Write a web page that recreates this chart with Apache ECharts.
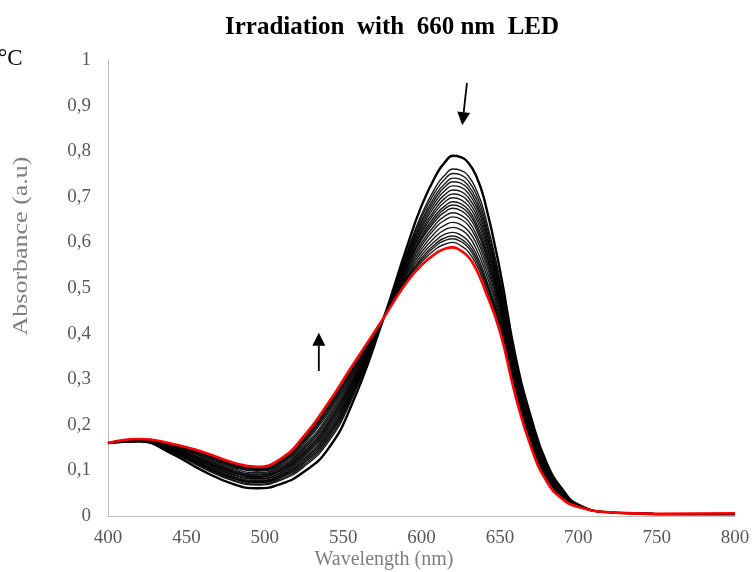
<!DOCTYPE html>
<html><head><meta charset="utf-8">
<script src="https://cdn.jsdelivr.net/npm/echarts@6/dist/echarts.min.js"></script>
<style>html,body{margin:0;padding:0;background:#fff}#c{width:754px;height:572px}</style>
</head><body><div id="c"></div><script>
// Wavelength grid (nm)
const wavelengths = [400,420,440,460,480,495,510,525,540,555,575,590,600,610,615,620,625,630,635,640,650,660,670,680,690,700,720,750,800];
// Absorbance spectra, first (black, highest peak) to last (red)
const curve00 = [0.160,0.163,0.138,0.100,0.070,0.061,0.070,0.097,0.145,0.240,0.425,0.583,0.680,0.752,0.776,0.790,0.787,0.774,0.745,0.695,0.540,0.350,0.215,0.115,0.058,0.025,0.008,0.004,0.004];
const curve01 = [0.160,0.164,0.141,0.106,0.077,0.068,0.078,0.108,0.160,0.252,0.426,0.572,0.661,0.727,0.748,0.761,0.758,0.745,0.715,0.667,0.520,0.337,0.206,0.109,0.055,0.024,0.008,0.005,0.005];
const curve02 = [0.160,0.164,0.142,0.108,0.079,0.070,0.081,0.112,0.165,0.257,0.426,0.569,0.655,0.718,0.739,0.751,0.748,0.734,0.705,0.657,0.514,0.333,0.202,0.107,0.054,0.024,0.008,0.005,0.005];
const curve03 = [0.160,0.164,0.143,0.110,0.082,0.073,0.084,0.116,0.170,0.261,0.426,0.565,0.648,0.709,0.729,0.741,0.738,0.724,0.695,0.647,0.507,0.329,0.199,0.105,0.053,0.024,0.008,0.005,0.005];
const curve04 = [0.160,0.165,0.144,0.112,0.083,0.074,0.086,0.119,0.174,0.264,0.426,0.562,0.643,0.702,0.722,0.733,0.730,0.716,0.686,0.639,0.501,0.325,0.196,0.104,0.052,0.024,0.008,0.005,0.005];
const curve05 = [0.160,0.165,0.145,0.113,0.085,0.076,0.088,0.123,0.178,0.268,0.427,0.559,0.637,0.695,0.714,0.724,0.721,0.707,0.678,0.631,0.496,0.322,0.194,0.102,0.051,0.023,0.008,0.005,0.005];
const curve06 = [0.160,0.165,0.146,0.115,0.087,0.078,0.090,0.126,0.182,0.272,0.427,0.556,0.632,0.687,0.705,0.715,0.712,0.698,0.669,0.622,0.490,0.318,0.191,0.100,0.050,0.023,0.008,0.005,0.005];
const curve07 = [0.160,0.166,0.147,0.117,0.090,0.081,0.093,0.130,0.187,0.275,0.427,0.553,0.626,0.679,0.697,0.706,0.703,0.689,0.660,0.614,0.484,0.314,0.188,0.098,0.049,0.023,0.008,0.005,0.005];
const curve08 = [0.160,0.166,0.148,0.119,0.091,0.082,0.095,0.133,0.191,0.279,0.427,0.550,0.621,0.672,0.689,0.698,0.694,0.680,0.651,0.606,0.478,0.310,0.185,0.097,0.048,0.023,0.008,0.005,0.005];
const curve09 = [0.160,0.166,0.149,0.121,0.094,0.085,0.098,0.136,0.195,0.283,0.428,0.546,0.615,0.664,0.680,0.689,0.685,0.671,0.642,0.597,0.472,0.306,0.182,0.095,0.047,0.022,0.008,0.005,0.005];
const curve10 = [0.160,0.166,0.149,0.122,0.095,0.086,0.100,0.139,0.199,0.286,0.428,0.544,0.610,0.658,0.674,0.682,0.678,0.664,0.635,0.590,0.467,0.303,0.180,0.093,0.047,0.022,0.008,0.005,0.005];
const curve11 = [0.160,0.166,0.150,0.124,0.097,0.088,0.102,0.142,0.202,0.289,0.428,0.541,0.606,0.652,0.667,0.675,0.670,0.656,0.628,0.583,0.463,0.300,0.178,0.092,0.046,0.022,0.008,0.005,0.005];
const curve12 = [0.160,0.167,0.151,0.126,0.099,0.090,0.104,0.146,0.207,0.293,0.428,0.538,0.599,0.644,0.658,0.665,0.660,0.646,0.617,0.574,0.456,0.296,0.175,0.090,0.045,0.022,0.008,0.005,0.005];
const curve13 = [0.160,0.167,0.152,0.127,0.101,0.092,0.107,0.149,0.212,0.297,0.428,0.534,0.593,0.636,0.649,0.656,0.651,0.637,0.608,0.565,0.450,0.292,0.172,0.088,0.044,0.022,0.008,0.005,0.005];
const curve14 = [0.160,0.167,0.153,0.130,0.104,0.095,0.110,0.153,0.217,0.302,0.429,0.530,0.586,0.626,0.638,0.644,0.639,0.625,0.597,0.554,0.442,0.287,0.168,0.086,0.043,0.021,0.008,0.005,0.005];
const curve15 = [0.160,0.168,0.154,0.132,0.107,0.098,0.113,0.158,0.223,0.306,0.429,0.526,0.579,0.616,0.628,0.633,0.628,0.614,0.585,0.543,0.435,0.282,0.164,0.084,0.042,0.021,0.008,0.005,0.005];
const curve16 = [0.160,0.168,0.156,0.134,0.109,0.100,0.116,0.162,0.228,0.311,0.429,0.522,0.572,0.607,0.618,0.622,0.616,0.602,0.574,0.532,0.427,0.277,0.161,0.082,0.040,0.021,0.008,0.005,0.005];
const curve17 = [0.160,0.168,0.156,0.136,0.111,0.102,0.118,0.165,0.232,0.314,0.429,0.519,0.566,0.600,0.610,0.614,0.608,0.594,0.566,0.525,0.422,0.274,0.158,0.080,0.040,0.021,0.008,0.005,0.005];
const curve18 = [0.160,0.168,0.157,0.137,0.112,0.103,0.120,0.168,0.236,0.317,0.430,0.517,0.562,0.595,0.604,0.608,0.602,0.588,0.559,0.519,0.418,0.271,0.156,0.079,0.039,0.020,0.008,0.005,0.005];
const curve19 = [0.160,0.169,0.158,0.139,0.114,0.105,0.122,0.171,0.240,0.320,0.430,0.514,0.557,0.588,0.596,0.600,0.593,0.579,0.551,0.511,0.412,0.268,0.154,0.077,0.038,0.020,0.008,0.005,0.005];
const finalCurve = [0.160,0.169,0.159,0.141,0.117,0.108,0.125,0.175,0.245,0.325,0.430,0.510,0.550,0.578,0.586,0.589,0.582,0.568,0.540,0.500,0.405,0.263,0.150,0.075,0.037,0.020,0.008,0.005,0.006];

const blackCurves = [curve00,curve01,curve02,curve03,curve04,curve05,curve06,curve07,curve08,curve09,
  curve10,curve11,curve12,curve13,curve14,curve15,curve16,curve17,curve18,curve19];

const titleText = 'Irradiation  with  660 nm  LED';
const xName = 'Wavelength (nm)';
const yName = 'Absorbance (a.u)';
const cornerText = '°C';
// arrow annotations in data coords [nm, absorbance] : [tail, head]
const arrowDown = [[629, 0.95], [626, 0.857]];
const arrowUp = [[534.5, 0.318], [534.5, 0.402]];

const serif = '"Liberation Serif", "Times New Roman", serif';
const chart = echarts.init(document.getElementById('c'), null, {renderer: 'canvas'});

const mk = arr => wavelengths.map((w, i) => [w, arr[i]]);
const series = blackCurves.map((arr, k) => ({
  type: 'line', data: mk(arr), showSymbol: false, smooth: 0.5,
  lineStyle: {color: '#000', width: k === 0 ? 2.4 : 1.4, opacity: k === 0 ? 1 : 0.9},
  silent: true, z: 2
}));
series.push({type: 'line', data: mk(finalCurve), showSymbol: false, smooth: 0.5,
  lineStyle: {color: '#ff0000', width: 2.6}, silent: true, z: 3});

chart.setOption({
  animation: false,
  backgroundColor: '#fff',
  grid: {left: 108, right: 19, top: 60, bottom: 56, containLabel: false},
  xAxis: {
    type: 'value', min: 400, max: 800, interval: 50,
    axisLine: {show: true, lineStyle: {color: '#bfbfbf', width: 1}},
    axisTick: {show: false}, splitLine: {show: false},
    axisLabel: {color: '#595959', fontFamily: serif, fontSize: 19, margin: 13}
  },
  yAxis: {
    type: 'value', min: 0, max: 1, interval: 0.1,
    axisLine: {show: true, lineStyle: {color: '#bfbfbf', width: 1}},
    axisTick: {show: false}, splitLine: {show: false},
    axisLabel: {color: '#595959', fontFamily: serif, fontSize: 19, margin: 17,
      formatter: v => String(Math.round(v * 10) / 10).replace('.', ',')}
  },
  series: series
});

function arrow(tail, head) {
  const p0 = chart.convertToPixel({gridIndex: 0}, tail);
  const p1 = chart.convertToPixel({gridIndex: 0}, head);
  const dx = p1[0] - p0[0], dy = p1[1] - p0[1];
  const L = Math.hypot(dx, dy), ux = dx / L, uy = dy / L;
  const hl = 13, hw = 6.5;
  const bx = p1[0] - ux * hl, by = p1[1] - uy * hl;
  return [
    {type: 'line', shape: {x1: p0[0], y1: p0[1], x2: bx, y2: by}, style: {stroke: '#000', lineWidth: 1.8}, silent: true},
    {type: 'polygon', shape: {points: [[p1[0], p1[1]], [bx - uy * hw, by + ux * hw], [bx + uy * hw, by - ux * hw]]}, style: {fill: '#000'}, silent: true}
  ];
}

chart.setOption({
  graphic: [
    {type: 'text', x: 392, y: 28, style: {text: titleText, font: 'bold 25px ' + serif, fill: '#000', align: 'center', verticalAlign: 'middle'}},
    {type: 'text', x: -2, y: 59, style: {text: cornerText, font: '23px ' + serif, fill: '#000', align: 'left', verticalAlign: 'middle'}},
    {type: 'text', x: 22, y: 246, rotation: Math.PI / 2, scaleX: 1.3, style: {text: yName, font: '20px ' + serif, fill: '#7f7f7f', align: 'center', verticalAlign: 'middle'}},
    {type: 'text', x: 384, y: 560, style: {text: xName, font: '20px ' + serif, fill: '#7f7f7f', align: 'center', verticalAlign: 'middle'}},
    ...arrow(arrowDown[0], arrowDown[1]),
    ...arrow(arrowUp[0], arrowUp[1])
  ]
});
</script></body></html>
